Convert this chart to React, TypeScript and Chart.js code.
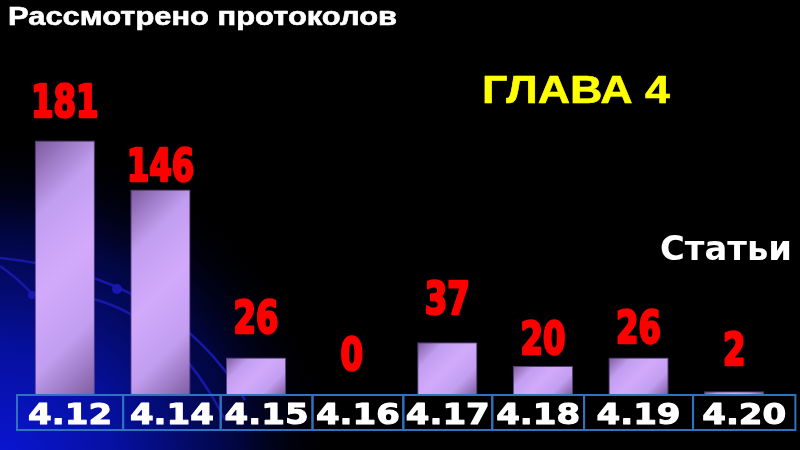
import React, { useEffect, useRef } from 'react';
import { Chart, registerables } from 'chart.js';

Chart.register(...registerables);

// ---- data ----
const categories = ['4.12', '4.14', '4.15', '4.16', '4.17', '4.18', '4.19', '4.20'];
const reviewed = [181, 146, 26, 0, 37, 20, 26, 2];
const titleText = 'Рассмотрено протоколов';
const chapterText = 'ГЛАВА 4';
const seriesText = 'Статьи';
const yMin = 0;
const yMax = 250;

// ---- style / layout (not data) ----
const LABEL_GAPS = [23, 8, 24, 23, 27, 11, 14, 25];
const BOX_EDGES = [0, 1.11, 2.13, 3.09, 4.04, 4.97, 5.93, 7.07, 8.14];

function drawFitted(
  ctx: CanvasRenderingContext2D,
  text: string,
  x: number,
  baseline: number,
  font: string,
  color: string,
  scaleX: number,
  align: 'left' | 'center',
  embolden = 0
) {
  ctx.save();
  ctx.font = font;
  ctx.fillStyle = color;
  ctx.strokeStyle = color;
  ctx.textBaseline = 'alphabetic';
  ctx.textAlign = 'left';
  const w = ctx.measureText(text).width * scaleX;
  const left = align === 'center' ? x - w / 2 : x;
  ctx.translate(left, baseline);
  ctx.scale(scaleX, 1);
  ctx.fillText(text, 0, 0);
  if (embolden > 0) {
    ctx.lineWidth = embolden;
    ctx.lineJoin = 'round';
    ctx.strokeText(text, 0, 0);
  }
  ctx.restore();
}

function scaleFor(ctx: CanvasRenderingContext2D, font: string, sample: string, target: number) {
  ctx.save();
  ctx.font = font;
  const m = ctx.measureText(sample).width;
  ctx.restore();
  return m > 0 ? target / m : 1;
}

const backgroundPlugin = {
  id: 'slideBackground',
  beforeDraw(chart: any) {
    const { ctx, width, height } = chart;
    ctx.save();
    ctx.fillStyle = '#000000';
    ctx.fillRect(0, 0, width, height);
    const g = ctx.createRadialGradient(0, height + 20, 0, 0, height + 20, 340);
    g.addColorStop(0, '#0a16d8');
    g.addColorStop(0.35, '#0610a0');
    g.addColorStop(0.7, '#020640');
    g.addColorStop(1, 'rgba(0,0,0,0)');
    ctx.fillStyle = g;
    ctx.fillRect(0, 0, width, height);
    ctx.strokeStyle = '#1818a8';
    ctx.lineWidth = 2.5;
    ctx.beginPath();
    ctx.moveTo(0, 258);
    ctx.quadraticCurveTo(170, 275, 245, 400);
    ctx.stroke();
    ctx.beginPath();
    ctx.moveTo(90, 298);
    ctx.quadraticCurveTo(175, 320, 225, 420);
    ctx.stroke();
    ctx.beginPath();
    ctx.moveTo(0, 266);
    ctx.quadraticCurveTo(20, 280, 33, 295);
    ctx.stroke();
    ctx.fillStyle = '#1818b0';
    ctx.beginPath();
    ctx.arc(117, 289, 5, 0, Math.PI * 2);
    ctx.fill();
    ctx.beginPath();
    ctx.arc(32, 295, 4, 0, Math.PI * 2);
    ctx.fill();
    ctx.restore();
  },
};

const overlayPlugin = {
  id: 'slideOverlay',
  afterDatasetsDraw(chart: any) {
    const { ctx, chartArea } = chart;
    const meta = chart.getDatasetMeta(0);

    // value labels
    const valFont = "bold 45px 'Liberation Sans Narrow', 'DejaVu Sans Condensed', sans-serif";
    const valScale = scaleFor(ctx, valFont, '20', 45);
    meta.data.forEach((bar: any, i: number) => {
      const gap = LABEL_GAPS[i] ?? 22;
      drawFitted(ctx, String(reviewed[i]), bar.x, bar.y - gap - 1, valFont, '#ff0000', valScale, 'center', 2.5);
    });

    // category boxes
    const catW = chartArea.width / categories.length;
    const top = chartArea.bottom + 1;
    const boxH = 35;
    ctx.save();
    ctx.strokeStyle = '#2f72c0';
    ctx.lineWidth = 2;
    for (let i = 0; i < categories.length; i++) {
      const l = chartArea.left + BOX_EDGES[i] * catW;
      const r = chartArea.left + BOX_EDGES[i + 1] * catW;
      ctx.strokeRect(l, top, r - l, boxH);
    }
    ctx.restore();
    const axFont = "bold 28px 'DejaVu Sans', sans-serif";
    const axScale = scaleFor(ctx, axFont, '4.18', 84);
    for (let i = 0; i < categories.length; i++) {
      const l = chartArea.left + BOX_EDGES[i] * catW;
      const r = chartArea.left + BOX_EDGES[i + 1] * catW;
      drawFitted(ctx, categories[i], (l + r) / 2, top + 29, axFont, '#ffffff', axScale, 'center', 1);
    }

    // titles
    const tFont = "bold 25px 'Liberation Sans', Arial, sans-serif";
    drawFitted(ctx, titleText, 8, 25, tFont, '#ffffff', scaleFor(ctx, tFont, titleText, 389), 'left', 0.6);
    const cFont = "bold 39px 'Liberation Sans', Arial, sans-serif";
    drawFitted(ctx, chapterText, 482, 103, cFont, '#ffff00', scaleFor(ctx, cFont, chapterText, 188), 'left', 0.6);
    const sFont = "bold 34px 'DejaVu Sans', sans-serif";
    drawFitted(ctx, seriesText, 660, 260, sFont, '#ffffff', scaleFor(ctx, sFont, seriesText, 132), 'left');
  },
};

function barFill(c: any) {
  const chart = c.chart;
  const { ctx, chartArea, scales } = chart;
  if (!chartArea || c.type !== 'data' || !scales.x || !scales.y) return '#c8a0f0';
  const x = scales.x.getPixelForValue(c.dataIndex);
  const yTop = scales.y.getPixelForValue(c.raw);
  const yBase = scales.y.getPixelForValue(0);
  const w = (chartArea.width / categories.length) * 0.63;
  const h = Math.max(1, yBase - yTop);
  const left = x - w / 2;
  const t = (w + h) / 2;
  const g = ctx.createLinearGradient(left, yTop, left + t, yTop + t);
  g.addColorStop(0, '#7a5a9e');
  g.addColorStop(0.25, '#c29ef0');
  g.addColorStop(0.5, '#d2aafc');
  g.addColorStop(0.75, '#c29ef0');
  g.addColorStop(1, '#7e5ea2');
  return g;
}

export default function App() {
  const ref = useRef<HTMLCanvasElement | null>(null);
  useEffect(() => {
    if (!ref.current) return;
    const chart = new Chart(ref.current, {
      type: 'bar',
      data: {
        labels: categories,
        datasets: [
          {
            label: seriesText,
            data: reviewed,
            backgroundColor: barFill as any,
            borderColor: 'rgba(96,68,136,0.9)',
            borderWidth: 1,
            barPercentage: 0.63,
            categoryPercentage: 1,
          },
        ],
      },
      options: {
        responsive: true,
        maintainAspectRatio: false,
        animation: false,
        layout: { padding: { left: 17, right: 18, top: 44, bottom: 56 } },
        plugins: { legend: { display: false }, tooltip: { enabled: false }, title: { display: false } },
        scales: {
          x: { display: false, offset: true, grid: { display: false } },
          y: { display: false, min: yMin, max: yMax, grid: { display: false } },
        },
      },
      plugins: [backgroundPlugin, overlayPlugin],
    });
    return () => chart.destroy();
  }, []);
  return (
    <div style={{ position: 'absolute', left: 0, top: 0, width: 800, height: 450, background: '#000' }}>
      <canvas ref={ref} />
    </div>
  );
}
